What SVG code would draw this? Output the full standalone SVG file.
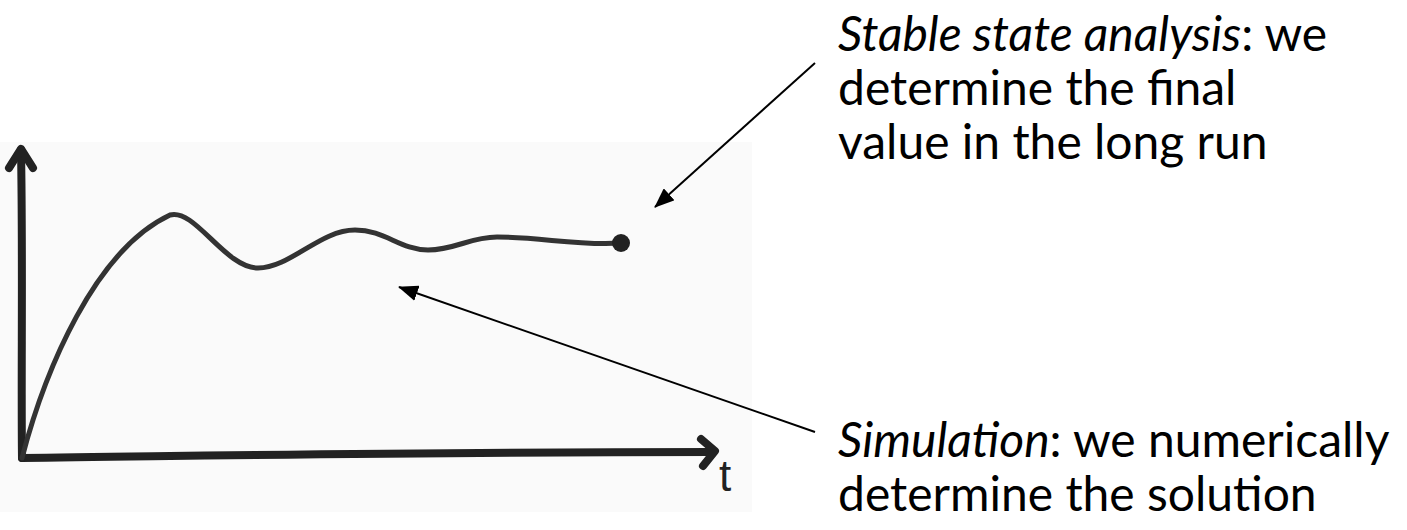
<svg xmlns="http://www.w3.org/2000/svg" width="1407" height="530" viewBox="0 0 1407 530">
  <defs>
    <marker id="arrow" viewBox="0 0 20 16" refX="19" refY="8" markerWidth="20" markerHeight="16" markerUnits="userSpaceOnUse" orient="auto">
      <path d="M0,0 L20,8 L0,16 Z" fill="#000"/>
    </marker>
  </defs>
  <style>
    .label { font-family: Lato, "Open Sans", "Liberation Sans", sans-serif; font-size: 48px; fill: #000; }
    .it { font-style: italic; }
    .axis { fill: none; stroke: #222; stroke-width: 8; stroke-linecap: round; stroke-linejoin: round; }
    .curve { fill: none; stroke: #333; stroke-width: 5; stroke-linecap: round; stroke-linejoin: round; }
    .conn { fill: none; stroke: #000; stroke-width: 2; }
  </style>
  <rect width="1407" height="530" fill="#fff"/>

  <g id="plot">
    <rect x="0" y="142" width="752" height="370" fill="#fafafa"/>
    <path class="axis" d="M22,458 C21,380 23,260 21,150"/>
    <polyline class="axis" points="9,168 21,149 33,168"/>
    <path class="axis" d="M22,458 C200,456 400,452 713,452"/>
    <polyline class="axis" points="701,439 715,451 703,466"/>
    <text x="719" y="491" font-family="'Liberation Sans', sans-serif" font-size="44" fill="#222">t</text>
    <path class="curve" d="M22,458 C45,370 95,250 170,215 C195,208 225,268 258,268 C290,268 320,230 355,230 C385,230 400,250 428,250 C455,250 470,237 497,237 C540,237 580,246 620,243"/>
    <circle cx="621" cy="243" r="9" fill="#222"/>
  </g>

  <g id="label-stable">
    <text class="label" x="838" y="51"><tspan class="it">Stable state analysis</tspan>: we</text>
    <text class="label" x="838" y="105">determine the final</text>
    <text class="label" x="838" y="159">value in the long run</text>
  </g>

  <g id="label-simulation">
    <text class="label" x="838" y="457"><tspan class="it">Simulation</tspan>: we numerically</text>
    <text class="label" x="838" y="511">determine the solution</text>
  </g>

  <g id="connectors">
    <line class="conn" x1="815" y1="63" x2="655" y2="207" marker-end="url(#arrow)"/>
    <line class="conn" x1="815" y1="432" x2="399" y2="287" marker-end="url(#arrow)"/>
  </g>
</svg>
